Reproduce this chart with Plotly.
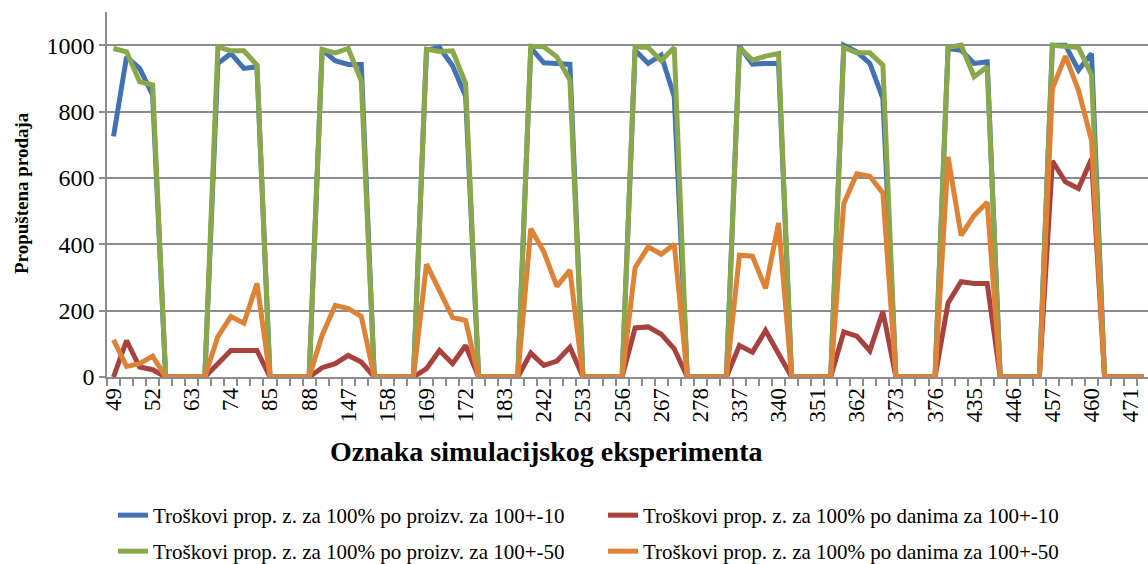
import plotly.graph_objects as go

# Experiment IDs (categories), in chart order
categories = [
    49, 50, 51, 52, 61, 62, 63, 64, 73, 74, 75, 76, 85, 86, 87, 88,
    145, 146, 147, 148, 157, 158, 159, 160, 169, 170, 171, 172, 181, 182, 183, 184,
    241, 242, 243, 244, 253, 254, 255, 256, 265, 266, 267, 268, 277, 278, 279, 280,
    337, 338, 339, 340, 349, 350, 351, 352, 361, 362, 363, 364, 373, 374, 375, 376,
    433, 434, 435, 436, 445, 446, 447, 448, 457, 458, 459, 460, 469, 470, 471, 472,
]
cat_labels = [str(c) for c in categories]
z4 = [0, 0, 0, 0]

proizv_10 = ([725, 965, 930, 850] + z4 + [945, 975, 930, 935] + z4 +
             [987, 953, 942, 942] + z4 + [985, 993, 938, 847] + z4 +
             [992, 947, 945, 942] + z4 + [985, 945, 970, 845] + z4 +
             [997, 943, 945, 945] + z4 + [1000, 980, 945, 840] + z4 +
             [990, 985, 945, 950] + z4 + [1000, 1000, 925, 975] + z4)

danima_10 = ([0, 110, 30, 22] + z4 + [40, 80, 80, 80] + z4 +
             [28, 40, 65, 45] + z4 + [25, 80, 40, 95] + z4 +
             [72, 35, 48, 90] + z4 + [148, 151, 129, 85] + z4 +
             [95, 75, 140, 68] + z4 + [136, 123, 79, 197] + z4 +
             [223, 287, 282, 282] + z4 + [651, 588, 568, 658] + z4)

proizv_50 = ([990, 980, 890, 880] + z4 + [995, 983, 983, 940] + z4 +
             [987, 977, 990, 893] + z4 + [988, 981, 983, 885] + z4 +
             [997, 995, 965, 895] + z4 + [995, 993, 953, 993] + z4 +
             [993, 955, 967, 975] + z4 + [993, 977, 977, 940] + z4 +
             [993, 1000, 905, 935] + z4 + [1000, 997, 993, 910] + z4)

danima_50 = ([112, 32, 40, 63] + z4 + [122, 182, 162, 282] + z4 +
             [126, 216, 206, 183] + z4 + [340, 260, 180, 170] + z4 +
             [447, 377, 273, 322] + z4 + [330, 392, 370, 400] + z4 +
             [367, 364, 267, 464] + z4 + [523, 612, 605, 555] + z4 +
             [663, 427, 487, 527] + z4 + [869, 967, 864, 713] + z4)

names = [
    "Troškovi prop. z. za 100% po proizv. za 100+-10",
    "Troškovi prop. z. za 100% po danima za 100+-10",
    "Troškovi prop. z. za 100% po proizv. za 100+-50",
    "Troškovi prop. z. za 100% po danima za 100+-50",
]
series = [proizv_10, danima_10, proizv_50, danima_50]
colors = ["#4372B4", "#A8423F", "#88A84B", "#DE8236"]
legends = ["legend", "legend", "legend2", "legend2"]

FONT = "Liberation Serif"
GRID = "#8C8C8C"

fig = go.Figure()
for n, s, c, lg in zip(names, series, colors, legends):
    fig.add_trace(go.Scatter(
        x=cat_labels, y=s, name=n, mode="lines",
        line=dict(color=c, width=5), legend=lg,
    ))

W, H = 1148, 564
L, R, T, B = 107, 0, 12, 187
pw, ph = W - L - R, H - T - B

ticktext = [lab if i % 3 == 0 else "" for i, lab in enumerate(cat_labels)]

legend_common = dict(
    orientation="h", xref="container", yref="container",
    xanchor="left", yanchor="top",
    entrywidth=445, entrywidthmode="pixels",
    font=dict(family=FONT, size=21, color="black"), itemwidth=30,
    bgcolor="rgba(0,0,0,0)",
)

fig.update_layout(
    width=W, height=H,
    margin=dict(l=L, r=R, t=T, b=B, autoexpand=False),
    paper_bgcolor="white", plot_bgcolor="white",
    font=dict(family=FONT, color="black", size=20),
    showlegend=True,
    legend=dict(legend_common, x=113 / W, y=1 - 495 / H),
    legend2=dict(legend_common, x=113 / W, y=1 - 531 / H),
    xaxis=dict(
        type="category",
        range=[-0.5, -0.5 + pw / 13.04],
        tickmode="array", tickvals=cat_labels, ticktext=ticktext,
        tickson="boundaries", ticks="outside", ticklen=7,
        tickcolor=GRID, tickwidth=1.5,
        tickangle=-90, tickfont=dict(family=FONT, size=23, color="black"),
        showline=True, linecolor=GRID, linewidth=1.5,
        showgrid=False, zeroline=False,
    ),
    yaxis=dict(
        range=[0, 1100], tickmode="linear", tick0=0, dtick=200,
        ticks="outside", ticklen=6, tickcolor=GRID, tickwidth=1.5,
        tickfont=dict(family=FONT, size=24, color="black"),
        showline=True, linecolor=GRID, linewidth=1.5,
        showgrid=True, gridcolor=GRID, gridwidth=1.5,
        zeroline=False,
    ),
    annotations=[
        dict(text="<b>Oznaka simulacijskog eksperimenta</b>",
             xref="paper", yref="paper",
             x=(546 - L) / pw, y=(H - B - 451) / ph,
             xanchor="center", yanchor="middle", showarrow=False,
             font=dict(family=FONT, size=28, color="black")),
        dict(text="<b>Propuštena prodaja</b>",
             xref="paper", yref="paper",
             x=(21 - L) / pw, y=(H - B - 193) / ph,
             xanchor="center", yanchor="middle", showarrow=False,
             textangle=-90, font=dict(family=FONT, size=19, color="black")),
    ],
)

fig.write_html(
    "out.html",
    config={"displayModeBar": False},
    post_script="document.body.style.margin='0';document.body.style.overflow='hidden';",
)
